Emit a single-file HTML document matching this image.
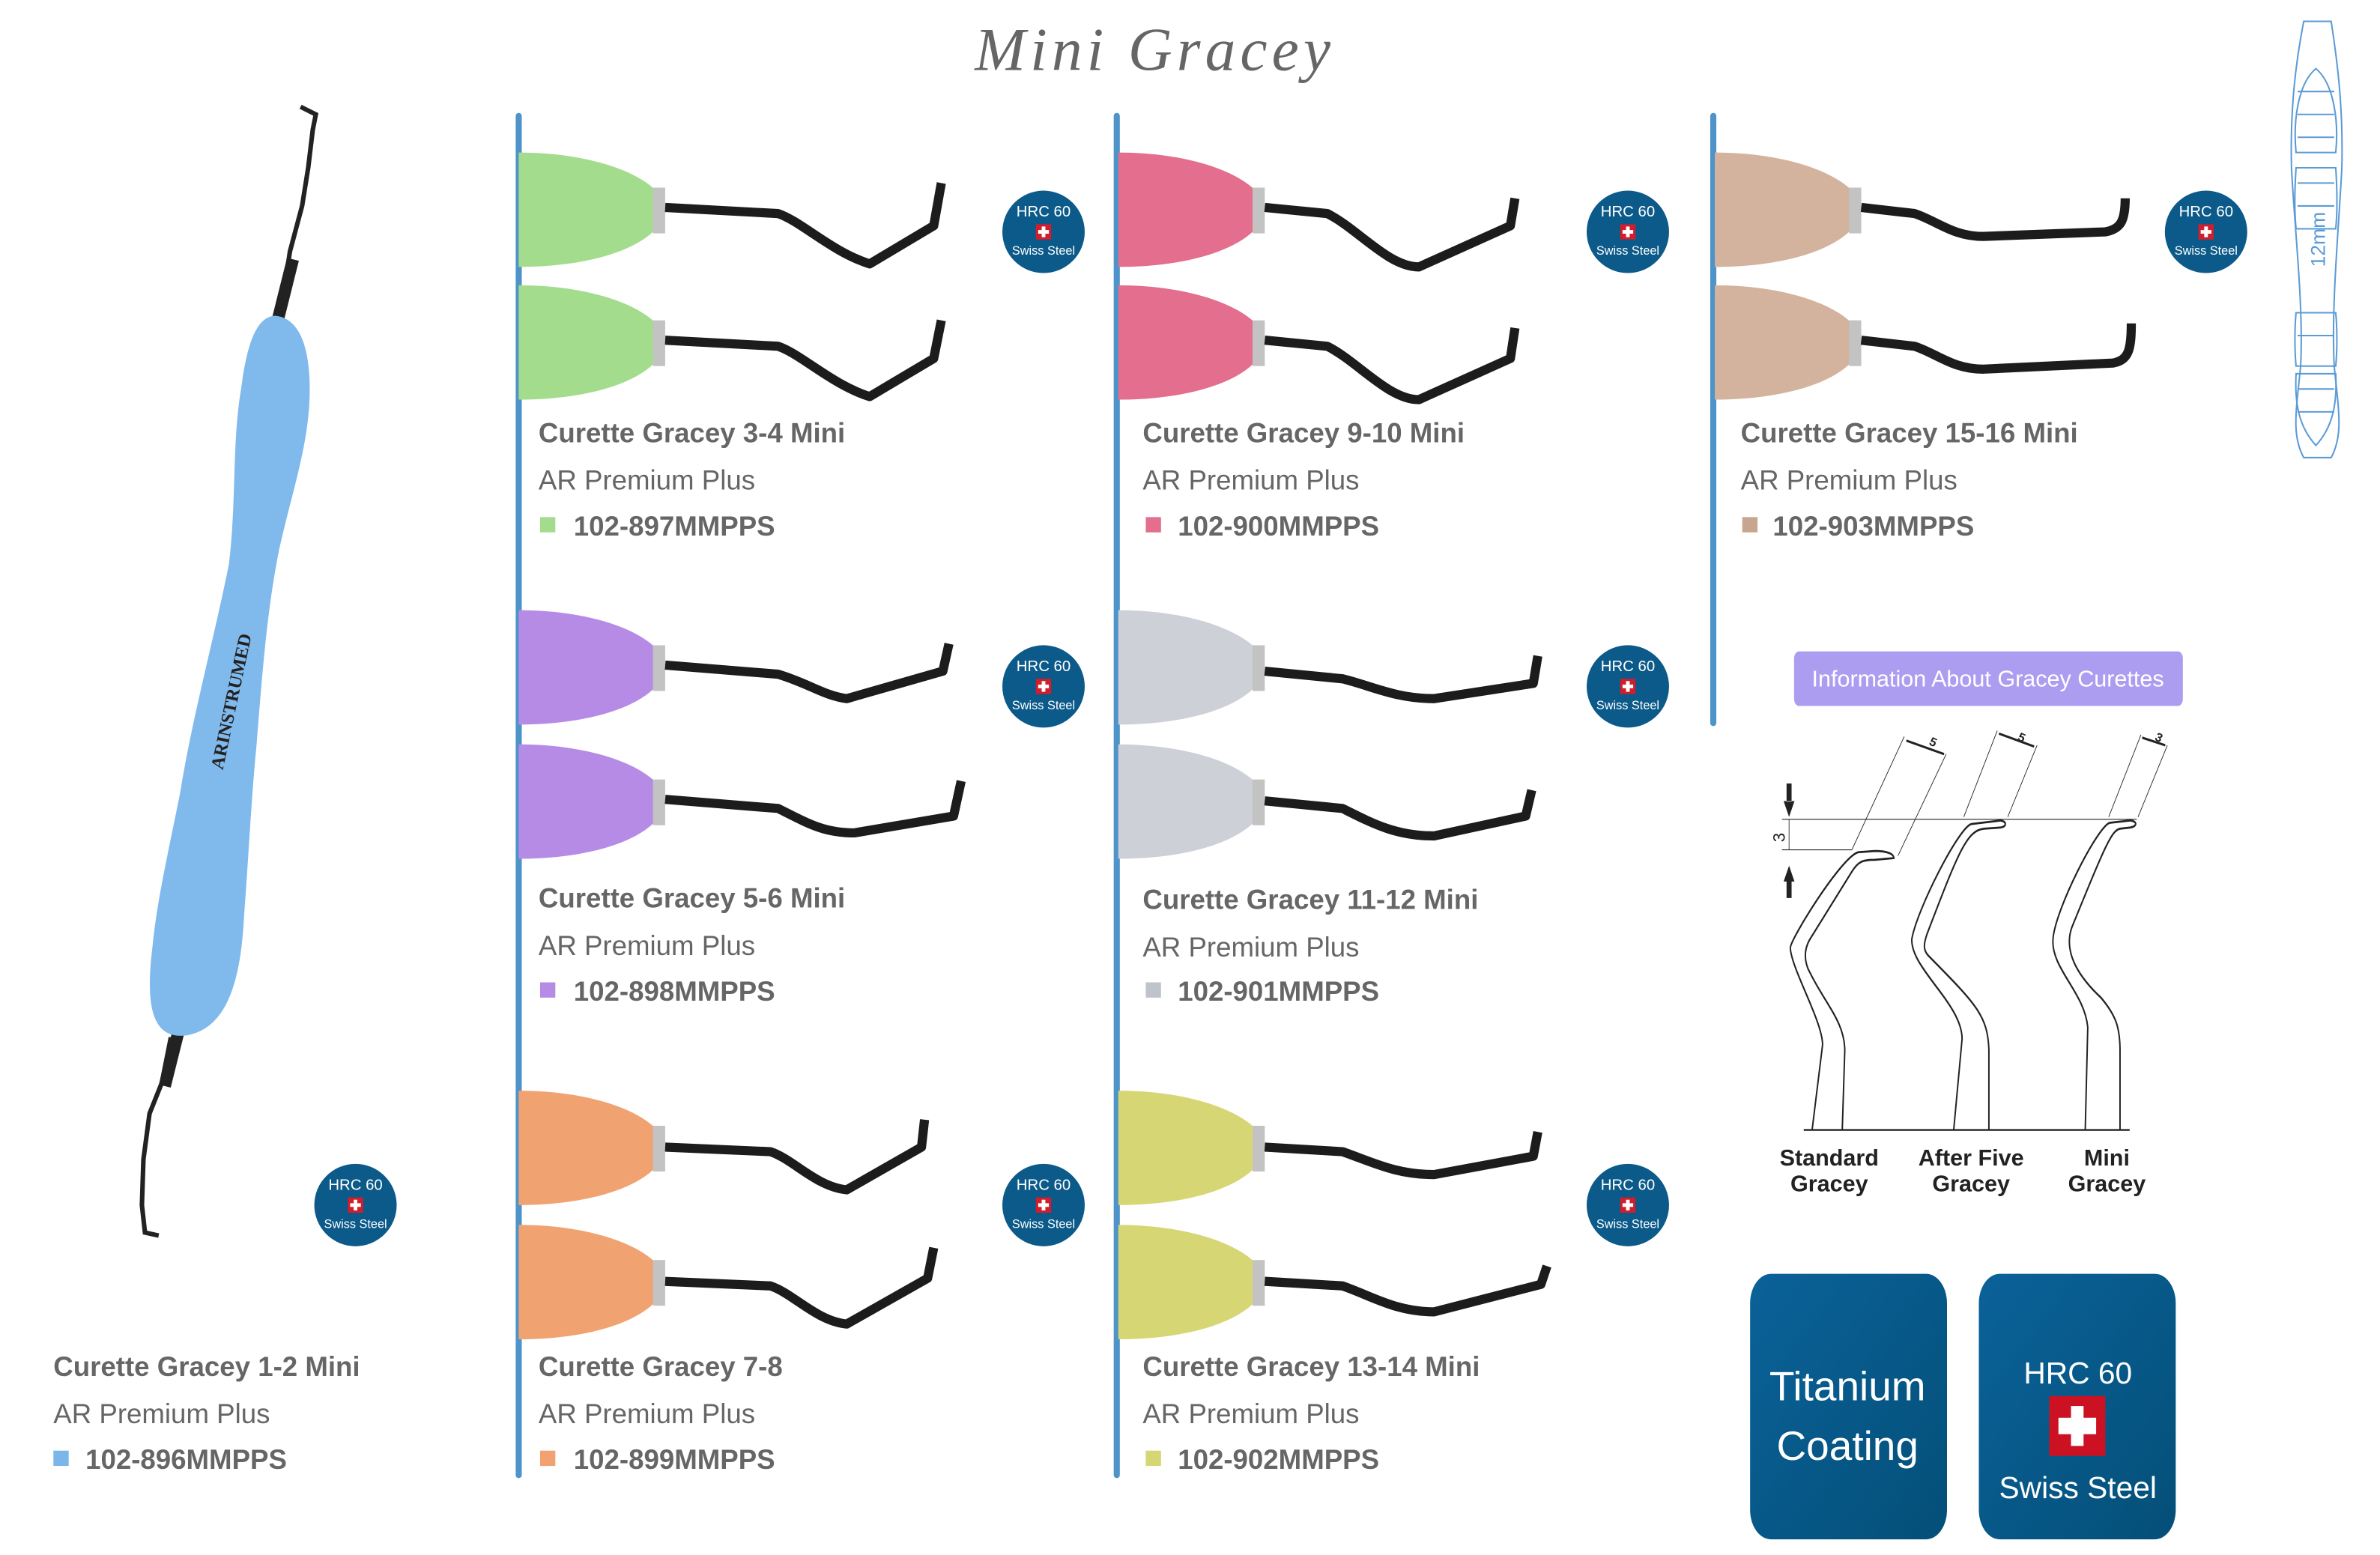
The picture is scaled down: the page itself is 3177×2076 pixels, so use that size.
<!DOCTYPE html>
<html><head><meta charset="utf-8">
<style>
html,body{margin:0;padding:0;background:#fff;}
svg{display:block;}
.t{font-family:"Liberation Sans",sans-serif;font-weight:bold;fill:#666;font-size:18px;}
.s{font-family:"Liberation Sans",sans-serif;fill:#666;font-size:18px;}
.c{font-family:"Liberation Sans",sans-serif;font-weight:bold;fill:#666;font-size:18px;}
.bw{font-family:"Liberation Sans",sans-serif;fill:#fff;}
.dg{font-family:"Liberation Sans",sans-serif;font-weight:bold;fill:#222;font-size:15px;text-anchor:middle;}
</style></head>
<body>
<svg width="3177" height="2076" viewBox="0 0 1560 1019.4" xmlns="http://www.w3.org/2000/svg">
<defs>
<g id="badge">
  <circle cx="0" cy="0" r="27" fill="#0b5a89"/>
  <text class="bw" x="0" y="-10" font-size="10" text-anchor="middle">HRC 60</text>
  <rect x="-5" y="-5" width="10" height="10" fill="#d21d2c"/>
  <rect x="-1.2" y="-3.5" width="2.4" height="7" fill="#fff"/>
  <rect x="-3.5" y="-1.2" width="7" height="2.4" fill="#fff"/>
  <text class="bw" x="0" y="15" font-size="8" text-anchor="middle">Swiss Steel</text>
</g>
<path id="hd" d="M0,0 C40,0 75,10 90,25 L90,50 C75,66 40,75 0,75 Z"/>
<linearGradient id="bx" x1="0" y1="0" x2="1" y2="1"><stop offset="0" stop-color="#0a6299"/><stop offset="1" stop-color="#044f78"/></linearGradient>
</defs>

<text x="757" y="46" text-anchor="middle" font-family="Liberation Serif,serif" font-style="italic" font-size="40" fill="#666" letter-spacing="3">Mini Gracey</text>

<!-- vertical lines -->
<line x1="340" y1="76" x2="340" y2="967" stroke="#4f94c8" stroke-width="4" stroke-linecap="round"/>
<line x1="732" y1="76" x2="732" y2="967" stroke="#4f94c8" stroke-width="4" stroke-linecap="round"/>
<line x1="1123" y1="76" x2="1123" y2="474" stroke="#4f94c8" stroke-width="4" stroke-linecap="round"/>

<!-- Left instrument -->
<path d="M184,205 L190,165 L198,135 L202,110 L205,85 L207,75 L197,70" fill="none" stroke="#222" stroke-width="3"/>
<path d="M182,210 L192,170" stroke="#222" stroke-width="8"/>
<path d="M112,680 L106,710 L98,730 L94,760 L93,790 L95,808 L104,810" fill="none" stroke="#222" stroke-width="3"/>
<path d="M117,676 L108,712" stroke="#222" stroke-width="8"/>
<path d="M180,207 C195,208 203,225 203,255 C203,290 192,320 183,360 C175,400 172,440 168,490 C165,520 163,560 160,600 C158,640 150,676 120,679 C100,680 95,660 100,620 C103,590 110,560 118,520 C126,470 140,420 150,370 C155,330 152,290 158,255 C162,225 168,208 180,207 Z" fill="#80b9ec"/>
<text x="0" y="0" transform="translate(146,505) rotate(-78)" font-family="Liberation Serif,serif" font-weight="bold" font-size="12" fill="#222">ARINSTRUMED</text>
<use href="#badge" x="233" y="790"/>
<text class="t" x="35" y="902">Curette Gracey 1-2 Mini</text>
<text class="s" x="35" y="933">AR Premium Plus</text>
<rect x="35" y="951" width="10" height="10" fill="#7ab6e8"/>
<text class="c" x="56" y="963">102-896MMPPS</text>

<!-- Column 1 -->
<g fill="#a3dc8d"><use href="#hd" x="340" y="100"/><use href="#hd" x="340" y="187"/></g>
<g fill="#b58be6"><use href="#hd" x="340" y="400"/><use href="#hd" x="340" y="488"/></g>
<g fill="#f1a271"><use href="#hd" x="340" y="715"/><use href="#hd" x="340" y="803"/></g>
<g fill="#c3c3c3"><rect x="428" y="123" width="8" height="30"/><rect x="428" y="210" width="8" height="30"/><rect x="428" y="423" width="8" height="30"/><rect x="428" y="511" width="8" height="30"/><rect x="428" y="738" width="8" height="30"/><rect x="428" y="826" width="8" height="30"/></g>
<g fill="none" stroke="#1c1c1c" stroke-width="6" stroke-linejoin="round">
<path d="M436,136 L510,140 C525,145 545,165 570,173 L612,148 L617,120"/>
<path d="M436,223 L510,227 C525,232 545,252 570,260 L612,235 L617,210"/>
<path d="M436,436 L510,442 C530,448 540,456 555,458 L618,440 L622,422"/>
<path d="M436,524 L510,530 C530,540 540,546 560,546 L625,535 L630,512"/>
<path d="M436,752 L505,755 C520,760 535,778 555,780 L604,752 L606,734"/>
<path d="M436,840 L505,843 C520,848 535,866 555,868 L608,838 L612,818"/>
</g>
<use href="#badge" x="684" y="152"/><use href="#badge" x="684" y="450"/><use href="#badge" x="684" y="790"/>
<text class="t" x="353" y="290">Curette Gracey 3-4 Mini</text>
<text class="s" x="353" y="321">AR Premium Plus</text>
<rect x="354" y="339" width="10" height="10" fill="#a3dc8d"/>
<text class="c" x="376" y="351">102-897MMPPS</text>
<text class="t" x="353" y="595">Curette Gracey 5-6 Mini</text>
<text class="s" x="353" y="626">AR Premium Plus</text>
<rect x="354" y="644" width="10" height="10" fill="#b58be6"/>
<text class="c" x="376" y="656">102-898MMPPS</text>
<text class="t" x="353" y="902">Curette Gracey 7-8</text>
<text class="s" x="353" y="933">AR Premium Plus</text>
<rect x="354" y="951" width="10" height="10" fill="#f1a271"/>
<text class="c" x="376" y="963">102-899MMPPS</text>

<!-- Column 2 -->
<g fill="#e36e8d"><use href="#hd" x="733" y="100"/><use href="#hd" x="733" y="187"/></g>
<g fill="#cdd0d6"><use href="#hd" x="733" y="400"/><use href="#hd" x="733" y="488"/></g>
<g fill="#d6d674"><use href="#hd" x="733" y="715"/><use href="#hd" x="733" y="803"/></g>
<g fill="#c3c3c3"><rect x="821" y="123" width="8" height="30"/><rect x="821" y="210" width="8" height="30"/><rect x="821" y="423" width="8" height="30"/><rect x="821" y="511" width="8" height="30"/><rect x="821" y="738" width="8" height="30"/><rect x="821" y="826" width="8" height="30"/></g>
<g fill="none" stroke="#1c1c1c" stroke-width="6" stroke-linejoin="round">
<path d="M829,136 L870,140 C890,150 910,175 930,175 L990,148 L993,130"/>
<path d="M829,223 L870,227 C890,237 910,262 930,262 L990,235 L993,215"/>
<path d="M829,440 L880,445 C900,450 915,458 940,458 L1005,448 L1008,430"/>
<path d="M829,525 L880,530 C900,540 915,548 940,548 L1000,535 L1004,518"/>
<path d="M829,752 L880,755 C900,762 915,770 940,770 L1005,758 L1008,742"/>
<path d="M829,840 L880,843 C900,850 915,860 940,860 L1010,842 L1014,830"/>
</g>
<use href="#badge" x="1067" y="152"/><use href="#badge" x="1067" y="450"/><use href="#badge" x="1067" y="790"/>
<text class="t" x="749" y="290">Curette Gracey 9-10 Mini</text>
<text class="s" x="749" y="321">AR Premium Plus</text>
<rect x="751" y="339" width="10" height="10" fill="#e36e8d"/>
<text class="c" x="772" y="351">102-900MMPPS</text>
<text class="t" x="749" y="596">Curette Gracey 11-12 Mini</text>
<text class="s" x="749" y="627">AR Premium Plus</text>
<rect x="751" y="644" width="10" height="10" fill="#bfc3ca"/>
<text class="c" x="772" y="656">102-901MMPPS</text>
<text class="t" x="749" y="902">Curette Gracey 13-14 Mini</text>
<text class="s" x="749" y="933">AR Premium Plus</text>
<rect x="751" y="951" width="10" height="10" fill="#d6d674"/>
<text class="c" x="772" y="963">102-902MMPPS</text>

<!-- Column 3 -->
<g fill="#d3b39e"><use href="#hd" x="1124" y="100"/><use href="#hd" x="1124" y="187"/></g>
<g fill="#c3c3c3"><rect x="1212" y="123" width="8" height="30"/><rect x="1212" y="210" width="8" height="30"/></g>
<g fill="none" stroke="#1c1c1c" stroke-width="6" stroke-linejoin="round">
<path d="M1220,136 L1255,140 C1270,145 1280,155 1300,155 L1380,152 C1390,150 1393,145 1393,130"/>
<path d="M1220,223 L1255,227 C1270,232 1280,242 1300,242 L1385,238 C1395,236 1397,230 1397,212"/>
</g>
<use href="#badge" x="1446" y="152"/>
<text class="t" x="1141" y="290">Curette Gracey 15-16 Mini</text>
<text class="s" x="1141" y="321">AR Premium Plus</text>
<rect x="1142" y="339" width="10" height="10" fill="#c8a58e"/>
<text class="c" x="1162" y="351">102-903MMPPS</text>

<!-- Ruler -->
<g fill="none" stroke="#5b9bd5" stroke-width="1">
<path d="M1510,14 L1528,14 C1532,40 1536,70 1535,110 C1533,150 1528,200 1530,240 C1533,270 1536,285 1528,300 L1510,300 C1502,285 1505,270 1508,240 C1510,200 1504,150 1502,110 C1501,70 1505,40 1510,14 Z"/>
<path d="M1518,45 C1506,55 1503,80 1505,100 L1531,100 C1533,80 1530,55 1518,45 Z"/>
<path d="M1505,110 C1504,125 1504,140 1505,150 L1531,150 C1532,140 1532,125 1531,110 Z"/>
<path d="M1505,205 C1504,215 1504,230 1505,240 L1531,240 C1532,230 1532,215 1531,205 Z"/>
<path d="M1505,245 C1504,265 1507,280 1518,292 C1529,280 1532,265 1531,245 Z"/>
<path d="M1506,60 L1530,60 M1506,75 L1530,75 M1506,90 L1530,90 M1506,120 L1530,120 M1506,135 L1530,135 M1506,220 L1530,220 M1506,255 L1530,255 M1506,270 L1530,270"/>
</g>
<text x="0" y="0" transform="translate(1524,175) rotate(-90)" font-family="Liberation Sans,sans-serif" font-size="13" fill="#5b9bd5">12mm</text>

<!-- Diagram group (non-uniform scale for shapes) -->
<g transform="translate(1135.6,419.3) scale(0.2746,0.385)">
<rect x="147" y="20" width="928" height="93" rx="12" fill="#ad9df1"/>
<g fill="none" stroke="#222" stroke-width="3.5">
<path d="M190,835 L215,690 C215,650 140,560 138,525 C138,510 260,370 300,362 L340,360 C370,360 385,365 385,372 L340,375 C310,375 300,378 285,395 L185,510 C170,528 172,545 180,560 C220,620 268,650 268,700 L262,835"/>
<path d="M528,835 L548,680 C548,620 425,560 428,510 C440,460 540,320 570,314 L640,308 C655,310 655,318 640,320 L600,322 C560,325 540,360 465,500 C455,520 455,530 470,540 C580,620 610,640 612,700 L612,835"/>
<path d="M842,835 L848,660 C840,600 760,560 765,510 C770,460 870,320 900,312 L950,308 C968,310 965,318 950,320 L925,322 C905,325 890,350 810,490 C795,520 805,560 880,610 C915,640 925,660 925,700 L925,835"/>
<path d="M170,835 L948,835" stroke-width="3"/>
</g>
<g stroke="#222" stroke-width="1.5" fill="none">
<path d="M118,306 L965,306 M118,358 L285,358 M135,306 L135,358"/>
<path d="M285,358 L410,165 M395,368 L510,195 M552,302 L632,155 M657,302 L727,180 M898,302 L975,162 M968,302 L1038,180"/>
</g>
<g stroke="#222" stroke-width="4"><path d="M415,172 L505,195 M636,160 L720,182 M978,167 L1033,180"/></g>
<g fill="#222">
<path d="M122,275 L135,302 L148,275 Z M129,245 L141,245 L141,276 L129,276 Z"/>
<path d="M122,412 L135,385 L148,412 Z M129,410 L141,410 L141,440 L129,440 Z"/>
</g>
<rect x="42" y="1080" width="470" height="452" rx="50" fill="url(#bx)"/>
<rect x="588" y="1080" width="470" height="452" rx="50" fill="url(#bx)"/>
<rect x="756" y="1288" width="134" height="102" fill="#cc1122"/>
<rect x="808" y="1305" width="30" height="68" fill="#fff"/>
<rect x="778" y="1325" width="90" height="28" fill="#fff"/>
</g>
<!-- Diagram texts in page coords -->
<text x="1303" y="450" text-anchor="middle" font-family="Liberation Sans,sans-serif" font-size="15" fill="#fff">Information About Gracey Curettes</text>
<text x="1170" y="549" transform="rotate(-90 1170 549)" text-anchor="middle" font-family="Liberation Sans,sans-serif" font-size="11" fill="#222">3</text>
<text x="1264" y="488" transform="rotate(25 1264 488)" font-family="Liberation Sans,sans-serif" font-weight="bold" font-size="8" fill="#222">5</text>
<text x="1322" y="485" transform="rotate(25 1322 485)" font-family="Liberation Sans,sans-serif" font-weight="bold" font-size="8" fill="#222">5</text>
<text x="1412" y="485" transform="rotate(25 1412 485)" font-family="Liberation Sans,sans-serif" font-weight="bold" font-size="8" fill="#222">3</text>
<text class="dg" x="1199" y="764">Standard</text><text class="dg" x="1199" y="781">Gracey</text>
<text class="dg" x="1292" y="764">After Five</text><text class="dg" x="1292" y="781">Gracey</text>
<text class="dg" x="1381" y="764">Mini</text><text class="dg" x="1381" y="781">Gracey</text>
<g font-family="Liberation Sans,sans-serif" fill="#fff" text-anchor="middle">
<text x="1211" y="918" font-size="27">Titanium</text>
<text x="1211" y="957" font-size="27">Coating</text>
<text x="1362" y="907" font-size="20">HRC 60</text>
<text x="1362" y="982" font-size="20">Swiss Steel</text>
</g>
</svg>
</body></html>
